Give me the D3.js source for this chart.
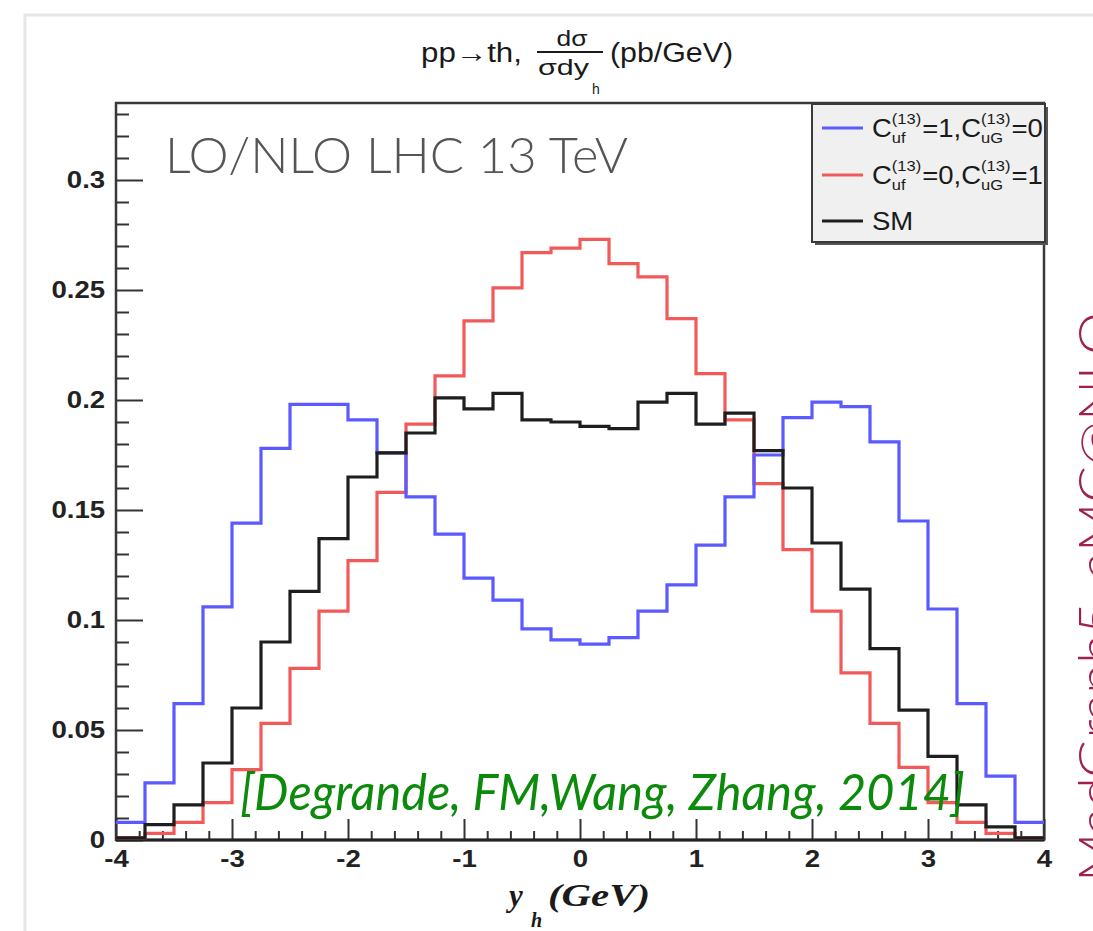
<!DOCTYPE html>
<html>
<head>
<meta charset="utf-8">
<script src="https://cdn.jsdelivr.net/npm/d3@7"></script>
<style>
  body { margin: 0; background: #fff; }
  svg { display: block; }
  text { font-family: "Liberation Sans", Arial, sans-serif; }
</style>
</head>
<body>
<svg id="chart" width="1093" height="931"></svg>
<script>
// Bin edges of the y_h histograms (32 bins of 0.25)
const binEdges = [-4, -3.75, -3.5, -3.25, -3, -2.75, -2.5, -2.25, -2, -1.75, -1.5, -1.25, -1, -0.75, -0.5, -0.25,
                  0, 0.25, 0.5, 0.75, 1, 1.25, 1.5, 1.75, 2, 2.25, 2.5, 2.75, 3, 3.25, 3.5, 3.75, 4];

// Normalised distributions dσ/(σ dy_h), one value per bin
const valuesCuf = [0.008, 0.026, 0.062, 0.106, 0.144, 0.178, 0.198, 0.198, 0.191, 0.176, 0.156, 0.139, 0.119, 0.109, 0.096, 0.091,
                   0.089, 0.092, 0.104, 0.116, 0.134, 0.156, 0.175, 0.192, 0.199, 0.197, 0.181, 0.145, 0.105, 0.062, 0.029, 0.008];
const valuesCuG = [0.001, 0.003, 0.008, 0.017, 0.032, 0.053, 0.078, 0.104, 0.127, 0.158, 0.189, 0.211, 0.236, 0.251, 0.267, 0.269,
                   0.273, 0.262, 0.256, 0.237, 0.212, 0.191, 0.162, 0.132, 0.104, 0.076, 0.053, 0.033, 0.017, 0.008, 0.003, 0.001];
const valuesSM  = [0.001, 0.007, 0.016, 0.035, 0.060, 0.090, 0.113, 0.137, 0.165, 0.176, 0.185, 0.201, 0.196, 0.203, 0.191, 0.190,
                   0.188, 0.187, 0.199, 0.203, 0.189, 0.194, 0.177, 0.160, 0.135, 0.114, 0.087, 0.059, 0.038, 0.016, 0.006, 0.001];

const xTicks = [-4, -3, -2, -1, 0, 1, 2, 3, 4];
const xTickLabels = ["-4", "-3", "-2", "-1", "0", "1", "2", "3", "4"];
const yTicks = [0, 0.05, 0.1, 0.15, 0.2, 0.25, 0.3];
const yTickLabels = ["0", "0.05", "0.1", "0.15", "0.2", "0.25", "0.3"];

const svg = d3.select("#chart");
const W = 1093, H = 931;
const frame = { left: 116, right: 1044, top: 103, bottom: 840 };

const x = d3.scaleLinear().domain([-4, 4]).range([frame.left, frame.right]);
const y = d3.scaleLinear().domain([0, 0.335]).range([frame.bottom, frame.top]);

// Slide border
svg.append("path")
  .attr("d", `M25,${H} L25,15 L${W},15`)
  .attr("fill", "none").attr("stroke", "#e6e6e6").attr("stroke-width", 3);

// Title: pp→th, dσ/(σ dy_h) (pb/GeV)
const title = svg.append("g").attr("fill", "#1a1a1a");
title.append("text").attr("x", 421).attr("y", 62).style("font-size", "27px")
  .attr("textLength", 101).attr("lengthAdjust", "spacingAndGlyphs").text("pp\u2192th,");
title.append("text").attr("x", 572).attr("y", 46).attr("text-anchor", "middle").style("font-size", "22px")
  .attr("textLength", 31).attr("lengthAdjust", "spacingAndGlyphs").text("d\u03c3");
title.append("line").attr("x1", 537).attr("x2", 603).attr("y1", 52).attr("y2", 52)
  .attr("stroke", "#1a1a1a").attr("stroke-width", 2.2);
title.append("text").attr("x", 538).attr("y", 75).style("font-size", "22px")
  .attr("textLength", 51).attr("lengthAdjust", "spacingAndGlyphs").text("\u03c3dy");
title.append("text").attr("x", 592).attr("y", 94).style("font-size", "14px").text("h");
title.append("text").attr("x", 610).attr("y", 62).style("font-size", "27px")
  .attr("textLength", 123).attr("lengthAdjust", "spacingAndGlyphs").text("(pb/GeV)");

// Frame
svg.append("rect")
  .attr("x", frame.left).attr("y", frame.top)
  .attr("width", frame.right - frame.left).attr("height", frame.bottom - frame.top)
  .attr("fill", "#fff").attr("stroke", "#3a3a3a").attr("stroke-width", 2.5);

// Axes with inward ticks, major and minor
const yMinor = d3.range(0, 0.331, 0.01).filter(v => Math.abs(v / 0.05 - Math.round(v / 0.05)) > 1e-6);
const xMinor = d3.range(-4, 4.001, 0.2).filter(v => Math.abs(v - Math.round(v)) > 1e-6);

function styleAxis(g) {
  g.select(".domain").remove();
  g.selectAll(".tick line").attr("stroke", "#333").attr("stroke-width", 2);
}

svg.append("g").attr("transform", `translate(${frame.left},0)`)
  .call(d3.axisLeft(y).tickValues(yMinor).tickSize(-13).tickFormat(""))
  .call(styleAxis);
const yAxis = svg.append("g").attr("transform", `translate(${frame.left},0)`)
  .call(d3.axisLeft(y).tickValues(yTicks).tickSize(-27).tickPadding(9)
    .tickFormat((d, i) => yTickLabels[i]))
  .call(styleAxis);
yAxis.selectAll(".tick text")
  .style("font-size", "23px").style("font-weight", "bold").attr("fill", "#222")
  .attr("transform", "scale(1.2,1)");

svg.append("g").attr("transform", `translate(0,${frame.bottom})`)
  .call(d3.axisBottom(x).tickValues(xMinor).tickSize(-9).tickFormat(""))
  .call(styleAxis);
const xAxis = svg.append("g").attr("transform", `translate(0,${frame.bottom})`)
  .call(d3.axisBottom(x).tickValues(xTicks).tickSize(-21).tickPadding(11)
    .tickFormat((d, i) => xTickLabels[i]))
  .call(styleAxis);
xAxis.selectAll(".tick text")
  .style("font-size", "23px").style("font-weight", "bold").attr("fill", "#222")
  .attr("transform", "scale(1.2,1)");

// Bottom axis line drawn heavier
svg.append("line").attr("x1", frame.left).attr("x2", frame.right)
  .attr("y1", frame.bottom).attr("y2", frame.bottom)
  .attr("stroke", "#222").attr("stroke-width", 3);

// Histograms as step lines
const stepLine = d3.line()
  .x(d => x(d[0])).y(d => y(d[1]))
  .curve(d3.curveStepAfter);
function histPoints(vals) {
  const pts = vals.map((v, i) => [binEdges[i], v]);
  pts.push([binEdges[binEdges.length - 1], vals[vals.length - 1]]);
  return pts;
}
const series = [
  { name: "CuG", values: valuesCuG, color: "#f25a5a" },
  { name: "Cuf", values: valuesCuf, color: "#5a5aff" },
  { name: "SM",  values: valuesSM,  color: "#1e1e1e" }
];
svg.append("g").selectAll("path").data(series).join("path")
  .attr("d", d => stepLine(histPoints(d.values)))
  .attr("fill", "none")
  .attr("stroke", d => d.color)
  .attr("stroke-width", 3.2)
  .attr("stroke-linejoin", "miter");

// Axis title y_h (GeV)
const xt = svg.append("g").attr("fill", "#1a1a1a")
  .style("font-family", "'Liberation Serif', 'Times New Roman', serif")
  .style("font-style", "italic").style("font-weight", "bold");
xt.append("text").attr("x", 509).attr("y", 906).style("font-size", "31px")
  .style("font-family", "'Liberation Serif', serif").text("y");
xt.append("text").attr("x", 531).attr("y", 927).style("font-size", "20px")
  .style("font-family", "'Liberation Serif', serif").text("h");
xt.append("text").attr("x", 548).attr("y", 906).style("font-size", "31px")
  .style("font-family", "'Liberation Serif', serif")
  .attr("textLength", 102).attr("lengthAdjust", "spacingAndGlyphs").text("(GeV)");

// Legend
const lg = svg.append("g");
lg.append("rect").attr("x", 815).attr("y", 107).attr("width", 233).attr("height", 138).attr("fill", "#555");
lg.append("rect").attr("x", 812).attr("y", 104).attr("width", 233).attr("height", 138)
  .attr("fill", "#f0f0f0").attr("stroke", "#3a3a3a").attr("stroke-width", 2);

function richText(parent, x0, y0, parts, sx) {
  const g = parent.append("g").attr("transform", `translate(${x0},${y0}) scale(${sx},1)`).attr("fill", "#1a1a1a");
  let cx = 0;
  parts.forEach(p => {
    if (p.stack) {
      const a = g.append("text").attr("x", cx).attr("y", -13).style("font-size", "15px").text(p.stack[0]);
      const b = g.append("text").attr("x", cx).attr("y", 6).style("font-size", "15px").text(p.stack[1]);
      cx += Math.max(a.node().getComputedTextLength(), b.node().getComputedTextLength()) + 1;
    } else {
      const t = g.append("text").attr("x", cx).attr("y", 0).style("font-size", "25px").text(p.t);
      cx += t.node().getComputedTextLength();
    }
  });
  return g;
}

const legendRows = [
  { color: "#5a5aff", parts: [{ t: "C" }, { stack: ["(13)", "uf"] }, { t: "=1,C" }, { stack: ["(13)", "uG"] }, { t: "=0" }] },
  { color: "#f25a5a", parts: [{ t: "C" }, { stack: ["(13)", "uf"] }, { t: "=0,C" }, { stack: ["(13)", "uG"] }, { t: "=1" }] },
  { color: "#1e1e1e", parts: [{ t: "SM" }] }
];
const rowY = [128, 175, 221];
legendRows.forEach((r, i) => {
  lg.append("line").attr("x1", 822).attr("x2", 863).attr("y1", rowY[i]).attr("y2", rowY[i])
    .attr("stroke", r.color).attr("stroke-width", 3.2);
  richText(lg, 872, rowY[i] + 9, r.parts, 1.1);
});

// Annotations
svg.append("text").attr("x", 165).attr("y", 173)
  .style("font-family", "Lato, 'Open Sans', sans-serif").style("font-weight", 300)
  .style("font-size", "50px").attr("fill", "#555")
  .attr("textLength", 463).attr("lengthAdjust", "spacingAndGlyphs")
  .text("LO/NLO LHC 13 TeV");

svg.append("text").attr("x", 240).attr("y", 810)
  .style("font-family", "Lato, 'Open Sans', sans-serif").style("font-style", "italic")
  .style("font-size", "50px").attr("fill", "#0b8a0b")
  .attr("textLength", 725).attr("lengthAdjust", "spacingAndGlyphs")
  .text("[Degrande, FM,Wang, Zhang, 2014]");

svg.append("text").attr("transform", "translate(1114,882) rotate(-90)")
  .style("font-family", "Lato, 'Open Sans', sans-serif").style("font-weight", 300)
  .style("font-size", "50px").attr("fill", "#9e2150")
  .attr("textLength", 570).attr("lengthAdjust", "spacingAndGlyphs")
  .text("MadGraph5_aMC@NLO");
</script>
</body>
</html>
